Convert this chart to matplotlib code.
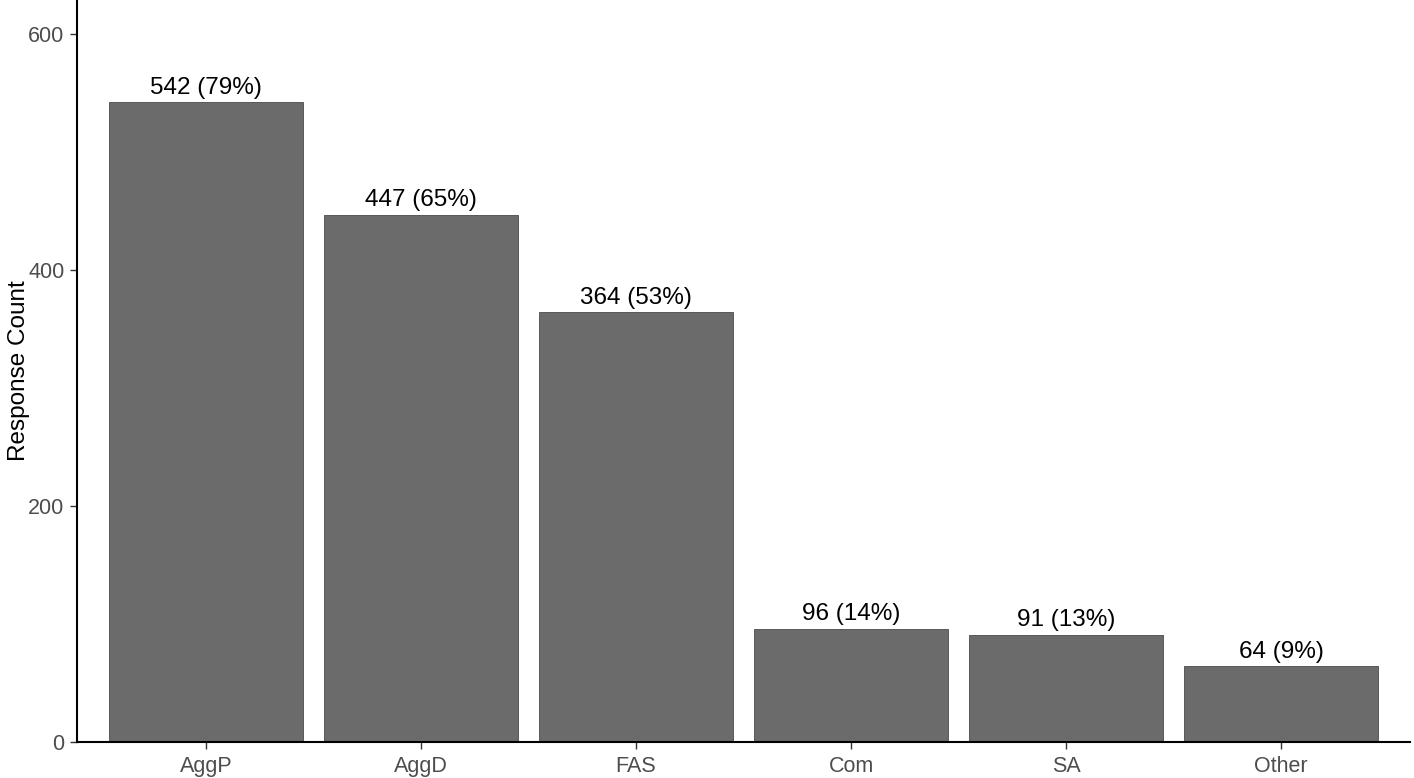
import numpy as np
import matplotlib.pyplot as plt

categories = ["AggP", "AggD", "FAS", "Com", "SA", "Other"]
counts = [542, 447, 364, 96, 91, 64]
percents = [79, 65, 53, 14, 13, 9]

plt.rcParams['font.family'] = ['Liberation Sans', 'DejaVu Sans']

fig = plt.figure(figsize=(14.14, 7.78), dpi=100)
ax = fig.add_axes([77/1414, 36/778, (1410-77)/1414, 742/778])

x = np.arange(1, len(categories)+1)
ax.bar(x, counts, width=0.9, color='#6b6b6b', edgecolor='#4a4a4a', linewidth=0.6)
for xi, c, p in zip(x, counts, percents):
    ax.text(xi, c + 3, f"{c} ({p}%)", ha='center', va='bottom', fontsize=17.5, color='black')

ax.set_xlim(0.4, 6.6)
ax.set_ylim(0, 628.8)
ax.set_xticks(x)
ax.set_xticklabels(categories)
ax.set_yticks([0, 200, 400, 600])
ax.tick_params(axis='both', labelsize=15.5, colors='#4d4d4d', length=5, width=1)
ax.tick_params(axis='x', pad=5)
ax.tick_params(axis='y', pad=4)
ax.tick_params(axis='both', color='#333333')
ax.set_ylabel("Response Count", fontsize=17.5, color='black', labelpad=10)
ax.yaxis.set_label_coords(-47/1333, 0.5)

for s in ['top', 'right']:
    ax.spines[s].set_visible(False)
for s in ['left', 'bottom']:
    ax.spines[s].set_linewidth(1.5)
    ax.spines[s].set_color('black')

plt.savefig("out.png", dpi=100)
